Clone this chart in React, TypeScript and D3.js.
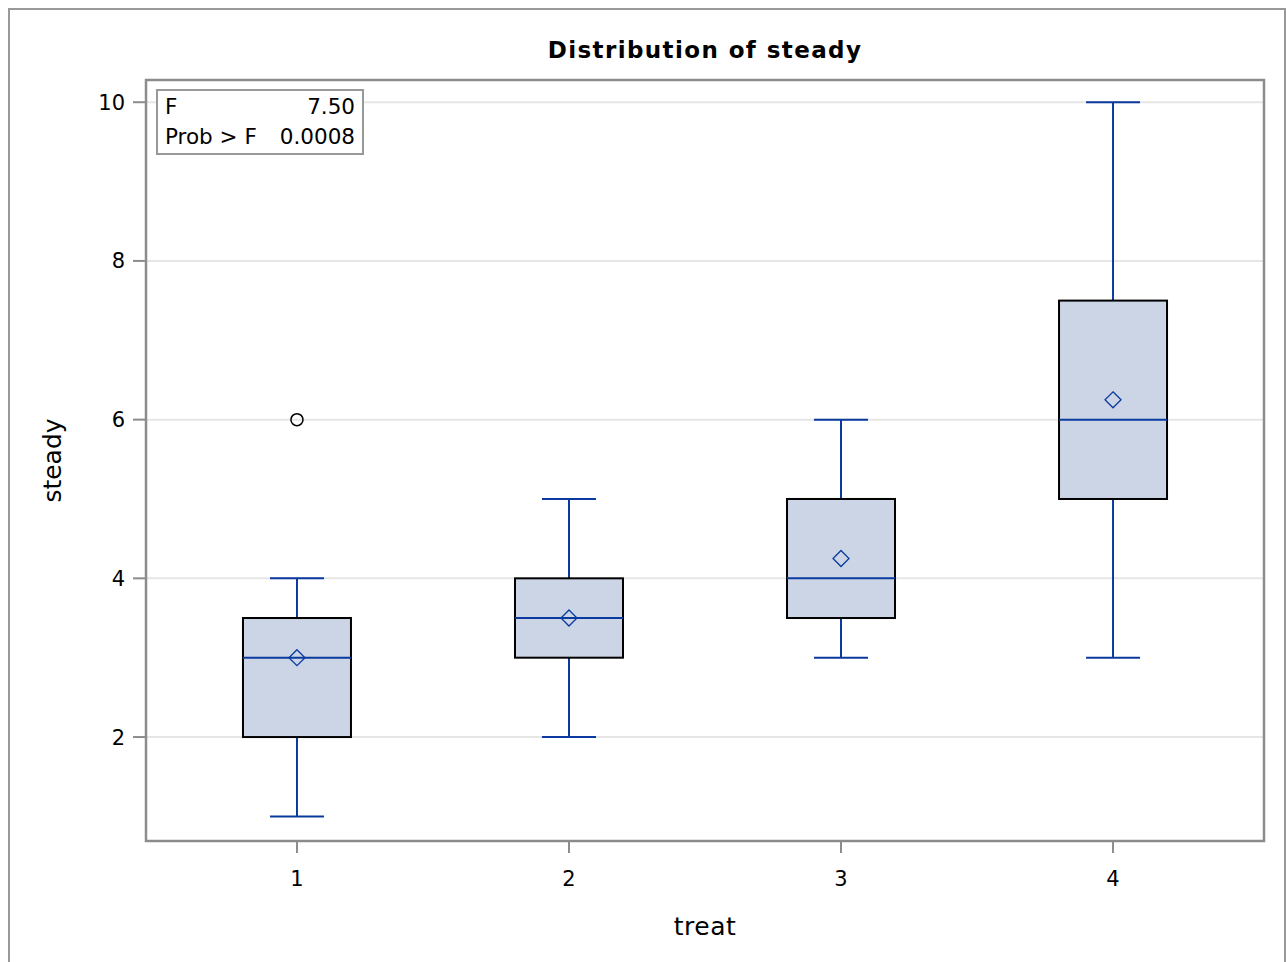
import React from "react";
import * as d3 from "d3";

const treats = ["1", "2", "3", "4"];
const whiskerLow = [1, 2, 3, 3];
const q1 = [2, 3, 3.5, 5];
const medians = [3, 3.5, 4, 6];
const q3 = [3.5, 4, 5, 7.5];
const whiskerHigh = [4, 5, 6, 10];
const means = [3, 3.5, 4.25, 6.25];
const outliers = [{ treat: "1", value: 6 }];
const yTicks = [2, 4, 6, 8, 10];
const statLabels = ["F", "Prob > F"];
const statValues = ["7.50", "0.0008"];

const W = 1286;
const H = 962;
const frame = { left: 146, top: 80, right: 1264, bottom: 841 };
const FONT = "'DejaVu Sans', Verdana, sans-serif";
const BLUE = "#0b3a9e";
const GRAY = "#8c8c8c";

const App = () => {
  const x = d3
    .scalePoint()
    .domain(treats)
    .range([frame.left, frame.right])
    .padding(0.555);
  const y = d3
    .scaleLinear()
    .domain([0.69, 10.28])
    .range([frame.bottom, frame.top]);
  const boxW = 108;
  const capW = 54;
  const midX = (frame.left + frame.right) / 2;
  const diamond = (cx, cy) => {
    const r = 8;
    return `M${cx},${cy - r}L${cx + r},${cy}L${cx},${cy + r}L${cx - r},${cy}Z`;
  };

  return (
    <svg
      width={W}
      height={H}
      style={{ position: "absolute", left: 0, top: 0, fontFamily: FONT }}
    >
      <rect x={0} y={0} width={W} height={H} fill="#fff" />
      <rect x={9} y={9} width={1276} height={970} fill="none" stroke="#999" strokeWidth={2} />
      <text x={midX} y={58} textAnchor="middle" fontSize={23} fontWeight="bold" letterSpacing={1.4}>
        Distribution of steady
      </text>

      {/* grid */}
      {yTicks.map(t => (
        <line
          key={"g" + t}
          x1={frame.left}
          x2={frame.right}
          y1={y(t)}
          y2={y(t)}
          stroke="#e6e6e6"
          strokeWidth={2}
        />
      ))}

      {/* boxes */}
      {treats.map((t, i) => {
        const cx = x(t);
        return (
          <g key={"b" + t}>
            <line x1={cx} x2={cx} y1={y(whiskerLow[i])} y2={y(q1[i])} stroke={BLUE} strokeWidth={2} />
            <line x1={cx} x2={cx} y1={y(q3[i])} y2={y(whiskerHigh[i])} stroke={BLUE} strokeWidth={2} />
            <line x1={cx - capW / 2} x2={cx + capW / 2} y1={y(whiskerLow[i])} y2={y(whiskerLow[i])} stroke={BLUE} strokeWidth={2} />
            <line x1={cx - capW / 2} x2={cx + capW / 2} y1={y(whiskerHigh[i])} y2={y(whiskerHigh[i])} stroke={BLUE} strokeWidth={2} />
            <rect
              x={cx - boxW / 2}
              y={y(q3[i])}
              width={boxW}
              height={y(q1[i]) - y(q3[i])}
              fill="#cbd5e5"
              stroke="#000"
              strokeWidth={2}
            />
            <line x1={cx - boxW / 2} x2={cx + boxW / 2} y1={y(medians[i])} y2={y(medians[i])} stroke={BLUE} strokeWidth={2} />
            <path d={diamond(cx, y(means[i]))} fill="none" stroke={BLUE} strokeWidth={1.3} />
          </g>
        );
      })}
      {outliers.map((o, i) => (
        <circle key={"o" + i} cx={x(o.treat)} cy={y(o.value)} r={6} fill="none" stroke="#000" strokeWidth={1.5} />
      ))}

      {/* stats inset */}
      <rect x={157} y={90} width={206} height={64} fill="#fff" stroke="#999" strokeWidth={2} />
      {statLabels.map((s, i) => (
        <g key={"s" + i} fontSize={21.5}>
          <text x={165} y={114 + i * 30}>{s}</text>
          <text x={355} y={114 + i * 30} textAnchor="end">{statValues[i]}</text>
        </g>
      ))}

      {/* frame */}
      <rect
        x={frame.left}
        y={frame.top}
        width={frame.right - frame.left}
        height={frame.bottom - frame.top}
        fill="none"
        stroke={GRAY}
        strokeWidth={2.5}
      />

      {/* y axis */}
      {yTicks.map(t => (
        <g key={"y" + t}>
          <line x1={frame.left - 13} x2={frame.left} y1={y(t)} y2={y(t)} stroke={GRAY} strokeWidth={2} />
          <text x={frame.left - 21} y={y(t)} dy="0.36em" textAnchor="end" fontSize={21}>
            {t}
          </text>
        </g>
      ))}
      <text
        transform={`translate(61,${(frame.top + frame.bottom) / 2}) rotate(-90)`}
        textAnchor="middle"
        fontSize={25}
      >
        steady
      </text>

      {/* x axis */}
      {treats.map(t => (
        <g key={"x" + t}>
          <line x1={x(t)} x2={x(t)} y1={frame.bottom} y2={frame.bottom + 12} stroke={GRAY} strokeWidth={2} />
          <text x={x(t)} y={frame.bottom + 45} textAnchor="middle" fontSize={21}>
            {t}
          </text>
        </g>
      ))}
      <text x={midX} y={935} textAnchor="middle" fontSize={25} letterSpacing={0.5}>
        treat
      </text>
    </svg>
  );
};

export default App;
